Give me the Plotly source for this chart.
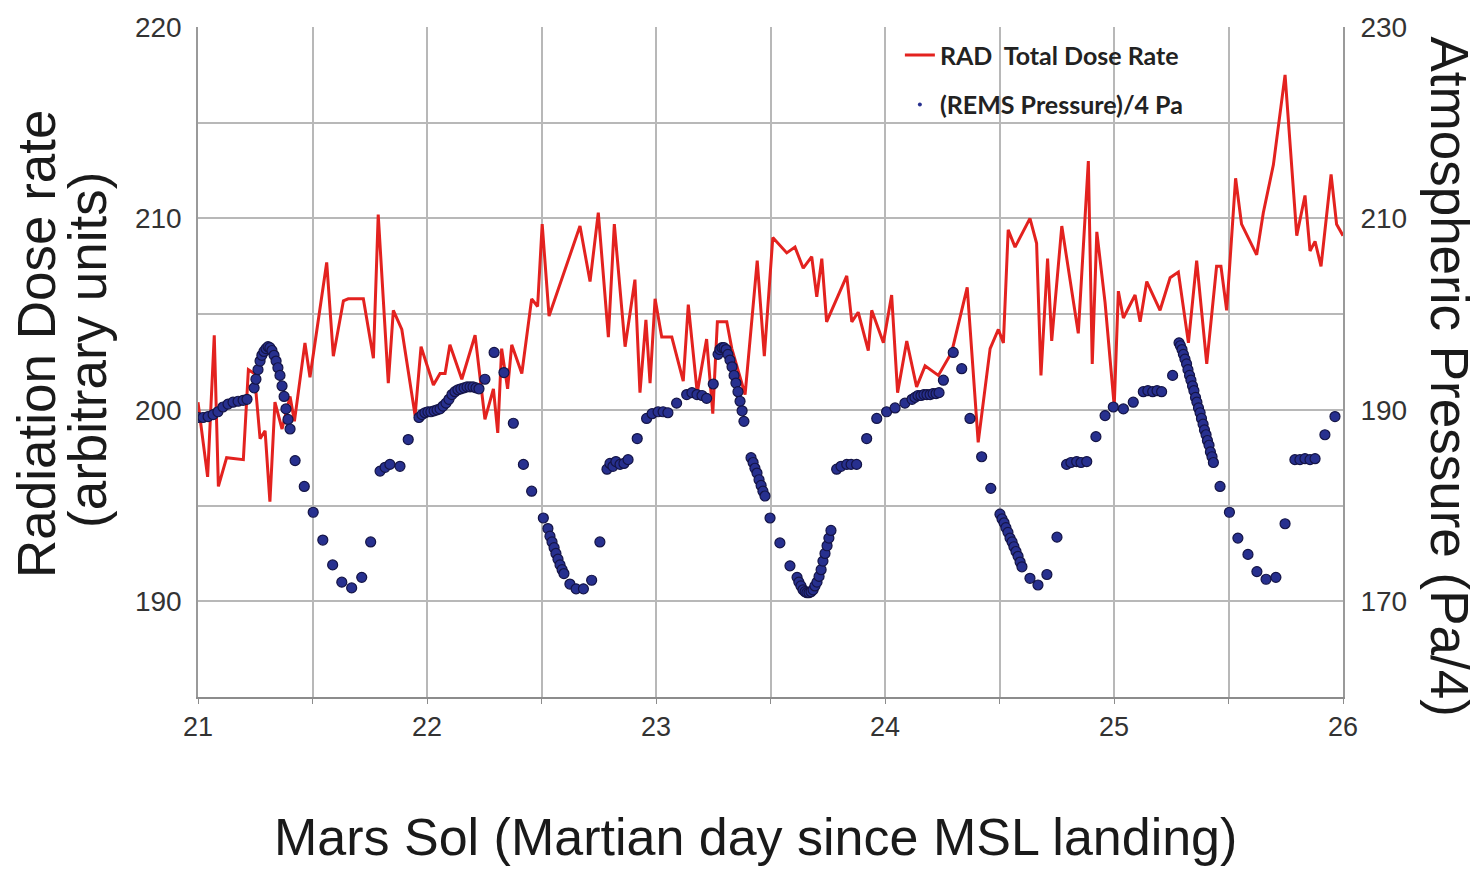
import plotly.graph_objects as go

# ---------------- data ----------------
# RAD total dose rate (arbitrary units) vs Mars sol
dose_sol = [21.000, 21.042, 21.071, 21.089, 21.125, 21.198, 21.220, 21.246, 21.271, 21.293,
            21.314, 21.336, 21.367, 21.402, 21.421, 21.467, 21.489, 21.562, 21.591, 21.635,
            21.656, 21.722, 21.766, 21.787, 21.831, 21.853, 21.890, 21.948, 21.974, 22.028,
            22.057, 22.079, 22.100, 22.152, 22.210, 22.253, 22.290, 22.309, 22.326, 22.352,
            22.370, 22.414, 22.457, 22.483, 22.503, 22.533, 22.668, 22.712, 22.748, 22.792,
            22.818, 22.865, 22.908, 22.930, 22.956, 22.974, 22.996, 23.025, 23.069, 23.119,
            23.141, 23.180, 23.221, 23.248, 23.268, 23.309, 23.331, 23.389, 23.442, 23.473,
            23.510, 23.571, 23.607, 23.643, 23.680, 23.702, 23.724, 23.745, 23.833, 23.855,
            23.883, 23.927, 23.942, 23.993, 24.029, 24.055, 24.095, 24.138, 24.175, 24.233,
            24.291, 24.359, 24.407, 24.459, 24.495, 24.517, 24.538, 24.568, 24.633, 24.662,
            24.681, 24.710, 24.728, 24.772, 24.844, 24.888, 24.905, 24.925, 24.961, 25.001,
            25.019, 25.041, 25.092, 25.114, 25.143, 25.201, 25.245, 25.281, 25.325, 25.361,
            25.405, 25.448, 25.467, 25.492, 25.531, 25.557, 25.623, 25.652, 25.696, 25.747,
            25.798, 25.834, 25.856, 25.878, 25.904, 25.948, 25.972, 26.000]
dose_val = [200.4, 196.5, 203.9, 196.0, 197.5, 197.4, 202.1, 201.9, 198.5, 198.9,
            195.2, 200.4, 199.0, 200.7, 199.4, 203.5, 201.7, 207.7, 202.8, 205.7,
            205.8, 205.8, 202.7, 210.2, 201.4, 205.2, 204.2, 199.7, 203.3, 201.3,
            201.9, 201.9, 203.4, 201.6, 203.9, 199.5, 201.1, 198.8, 203.2, 201.1,
            203.4, 201.9, 205.8, 205.4, 209.7, 204.9, 209.6, 206.7, 210.3, 203.8,
            209.7, 203.3, 206.8, 200.9, 204.7, 201.4, 205.8, 203.8, 203.8, 201.5,
            205.5, 200.9, 203.7, 199.8, 204.6, 204.6, 203.2, 200.8, 207.8, 202.8,
            209.0, 208.2, 208.5, 207.4, 208.0, 205.9, 207.9, 204.6, 207.0, 204.6,
            205.1, 203.1, 205.2, 203.5, 206.0, 200.9, 203.6, 201.2, 202.3, 201.8,
            203.0, 206.4, 198.3, 203.2, 204.2, 203.5, 209.4, 208.5, 210.0, 208.7,
            201.8, 207.9, 203.6, 209.6, 204.0, 213.0, 202.4, 209.3, 205.6, 200.2,
            206.2, 204.8, 206.0, 204.6, 206.7, 205.2, 206.9, 207.2, 203.5, 207.8,
            202.4, 207.5, 207.5, 205.2, 212.1, 209.7, 208.1, 210.3, 212.8, 217.5,
            209.1, 211.2, 208.3, 208.8, 207.5, 212.3, 209.7, 209.1]

# REMS pressure / 4 (Pa) vs Mars sol
pres_sol = [
    21.000, 21.022, 21.044, 21.066, 21.087, 21.109, 21.131, 21.153, 21.175, 21.197, 21.214,
    21.245, 21.253, 21.262, 21.271, 21.279, 21.288, 21.297, 21.306, 21.314, 21.323,
    21.332, 21.341, 21.349, 21.358, 21.367, 21.376, 21.384, 21.393, 21.402,
    21.424, 21.464, 21.503, 21.545, 21.588, 21.628, 21.671, 21.715, 21.754, 21.795,
    21.817, 21.838, 21.882, 21.918,
    21.965, 21.978, 21.991, 22.004, 22.017, 22.031, 22.044, 22.057, 22.070, 22.083,
    22.096, 22.109, 22.122, 22.135, 22.148, 22.162, 22.175, 22.188, 22.201, 22.214, 22.227,
    22.253, 22.293, 22.336, 22.377, 22.421, 22.457, 22.508,
    22.528, 22.537, 22.546, 22.555, 22.563, 22.572, 22.581, 22.590, 22.598,
    22.624, 22.651, 22.683, 22.719, 22.755,
    22.786, 22.799, 22.812, 22.825, 22.843, 22.860, 22.878,
    22.918, 22.959, 22.983, 23.009, 23.031, 23.052, 23.090, 23.134, 23.157, 23.179,
    23.201, 23.221, 23.250,
    23.271, 23.279, 23.288, 23.297, 23.306, 23.314, 23.323, 23.332, 23.341, 23.349,
    23.358, 23.367, 23.376, 23.384,
    23.415, 23.424, 23.432, 23.441, 23.450, 23.459, 23.467, 23.476,
    23.498, 23.541, 23.585,
    23.616, 23.624, 23.633, 23.642, 23.651, 23.659, 23.668, 23.677, 23.686, 23.694,
    23.703, 23.712, 23.721, 23.729, 23.738, 23.747, 23.755, 23.764,
    23.789, 23.808, 23.833, 23.852, 23.876, 23.920, 23.964, 24.007, 24.044, 24.087,
    24.118, 24.131, 24.144, 24.157, 24.170, 24.183, 24.197, 24.210, 24.223, 24.236,
    24.255, 24.298, 24.335, 24.371, 24.422, 24.462,
    24.502, 24.511, 24.520, 24.528, 24.537, 24.546, 24.555, 24.563, 24.572, 24.581,
    24.590, 24.598,
    24.633, 24.668, 24.707, 24.751, 24.793, 24.812, 24.837, 24.856, 24.881, 24.921,
    24.961, 24.997, 25.041, 25.084, 25.128, 25.148, 25.169, 25.188, 25.208, 25.256,
    25.284, 25.290, 25.297, 25.303, 25.310, 25.317, 25.323, 25.330, 25.336, 25.343,
    25.349, 25.356, 25.362, 25.369, 25.376, 25.382, 25.389, 25.395, 25.402, 25.408,
    25.415, 25.421, 25.428, 25.434,
    25.463, 25.504, 25.541, 25.585, 25.624, 25.664, 25.707, 25.747, 25.790, 25.812,
    25.834, 25.856, 25.878, 25.921, 25.965]
pres_val = [
    189.2, 189.2, 189.3, 189.5, 189.8, 190.3, 190.6, 190.8, 190.9, 191.0, 191.1,
    192.3, 193.2, 194.2, 195.1, 195.7, 196.1, 196.4, 196.6, 196.5, 196.2,
    195.7, 195.1, 194.4, 193.6, 192.5, 191.4, 190.1, 189.0, 188.0,
    184.7, 182.0, 179.3, 176.4, 173.8, 172.0, 171.4, 172.5, 176.2, 183.6,
    184.0, 184.3, 184.1, 186.9,
    189.2, 189.5, 189.7, 189.8, 189.8, 189.9, 190.0, 190.1, 190.4, 190.7,
    191.1, 191.6, 191.9, 192.1, 192.2, 192.3, 192.4, 192.4, 192.4, 192.3, 192.2,
    193.2, 196.0, 193.9, 188.6, 184.3, 181.5, 178.7,
    177.6, 176.8, 176.2, 175.6, 175.0, 174.4, 173.8, 173.3, 172.9,
    171.8, 171.3, 171.3, 172.2, 176.2,
    183.8, 184.4, 184.1, 184.6, 184.3, 184.4, 184.8,
    187.0, 189.1, 189.6, 189.8, 189.8, 189.7, 190.7, 191.6, 191.8, 191.6,
    191.5, 191.2, 192.7,
    195.8, 196.3, 196.5, 196.5, 196.3, 195.8, 195.2, 194.5, 193.6, 192.8,
    191.9, 190.9, 189.9, 188.8,
    185.0, 184.5, 183.9, 183.4, 182.7, 182.1, 181.5, 181.0,
    178.7, 176.1, 173.7,
    172.5, 172.0, 171.6, 171.2, 171.0, 170.9, 170.9, 171.0, 171.2, 171.6,
    172.0, 172.6, 173.3, 174.2, 175.0, 175.8, 176.6, 177.4,
    183.8, 184.1, 184.3, 184.3, 184.3, 187.0, 189.1, 189.8, 190.2, 190.7,
    191.1, 191.3, 191.5, 191.5, 191.6, 191.6, 191.6, 191.7, 191.7, 191.8,
    193.1, 196.0, 194.3, 189.1, 185.1, 181.8,
    179.1, 178.6, 178.2, 177.7, 177.2, 176.6, 176.2, 175.7, 175.2, 174.7,
    174.1, 173.6,
    172.4, 171.7, 172.8, 176.7, 184.3, 184.5, 184.6, 184.5, 184.6, 187.2,
    189.4, 190.3, 190.1, 190.8, 191.9, 192.0, 191.9, 192.0, 191.9, 193.6,
    197.0, 196.7, 196.3, 195.8, 195.3, 194.8, 194.2, 193.6, 193.1, 192.5,
    192.0, 191.3, 190.8, 190.2, 189.7, 189.1, 188.5, 187.9, 187.4, 186.8,
    186.3, 185.6, 185.1, 184.5,
    182.0, 179.3, 176.6, 174.9, 173.1, 172.3, 172.5, 178.1, 184.8, 184.8,
    184.9, 184.8, 184.9, 187.4, 189.3]

x_ticks = [21, 21.5, 22, 22.5, 23, 23.5, 24, 24.5, 25, 25.5, 26]
x_labels = ["21", "", "22", "", "23", "", "24", "", "25", "", "26"]
yl_ticks = [185, 190, 195, 200, 205, 210, 215, 220]
yl_labels = ["", "190", "", "200", "", "210", "", "220"]
yr_ticks = [170, 190, 210, 230]

RED = "#e3221f"
BLUE = "#27308f"
GRID = "#b8b8b8"
FONT = "Liberation Sans, Arial, sans-serif"

fig = go.Figure()

fig.add_trace(go.Scatter(
    x=dose_sol, y=dose_val, mode="lines", name="RAD  Total Dose Rate",
    line=dict(color=RED, width=3), legendgroup="a", yaxis="y"))

fig.add_trace(go.Scatter(
    x=pres_sol, y=pres_val, mode="markers", name="(REMS Pressure)/4 Pa",
    marker=dict(size=10, color=BLUE, line=dict(color="#141446", width=1.2)),
    showlegend=False, yaxis="y2"))

# legend proxy (tiny dot as in the reference legend)
fig.add_trace(go.Scatter(
    x=[None], y=[None], mode="markers", name="(REMS Pressure)/4 Pa",
    marker=dict(size=4, color=BLUE), legendgroup="b", yaxis="y2"))

fig.update_layout(
    width=1479, height=872,
    margin=dict(l=198, r=136, t=22, b=175),
    paper_bgcolor="white", plot_bgcolor="white",
    font=dict(family=FONT, color="#333333"),
    showlegend=True,
    legend=dict(x=0.613, y=0.992, xanchor="left", yanchor="top",
                bgcolor="rgba(0,0,0,0)", tracegroupgap=14,
                font=dict(family="Lato, Open Sans, sans-serif", size=25, color="#222222",
                          weight="bold"),
                itemwidth=30),
    xaxis=dict(range=[21, 26], tickvals=x_ticks, ticktext=x_labels,
               showgrid=True, gridcolor=GRID, gridwidth=1.6,
               showline=True, linecolor="#8c8c8c", linewidth=1.6,
               ticks="outside", ticklen=5, tickcolor="#8c8c8c",
               tickfont=dict(size=27, color="#333333"), zeroline=False),
    yaxis=dict(range=[185, 220], tickvals=yl_ticks, ticktext=yl_labels,
               showgrid=True, gridcolor=GRID, gridwidth=1.6,
               showline=True, linecolor="#9a9a9a", linewidth=1.6,
               ticks="", tickfont=dict(size=28, color="#333333"),
               ticklabelstandoff=9, zeroline=False),
    yaxis2=dict(range=[160, 230], tickvals=yr_ticks, overlaying="y", side="right",
                showgrid=False, showline=True, linecolor="#9a9a9a", linewidth=1.6,
                ticks="", tickfont=dict(size=28, color="#333333"),
                ticklabelstandoff=10, zeroline=False),
)

ann_font = dict(family=FONT, size=53, color="#1a1a1a")
fig.add_annotation(text="Radiation Dose rate", textangle=-90, xref="paper", yref="paper",
                   x=-0.1406, y=0.527, xanchor="center", yanchor="middle",
                   showarrow=False, font=ann_font)
fig.add_annotation(text="(arbitrary units)", textangle=-90, xref="paper", yref="paper",
                   x=-0.0961, y=0.518, xanchor="center", yanchor="middle",
                   showarrow=False, font=ann_font)
fig.add_annotation(text="Atmospheric Pressure (Pa/4)", textangle=90, xref="paper", yref="paper",
                   x=1.0934, y=0.4785, xanchor="center", yanchor="middle",
                   showarrow=False, font=ann_font)
fig.add_annotation(text="Mars Sol (Martian day since MSL landing)", xref="paper", yref="paper",
                   x=0.4865, y=-0.209, xanchor="center", yanchor="middle",
                   showarrow=False, font=dict(family=FONT, size=52, color="#1a1a1a"))

fig.write_html("out.html")
